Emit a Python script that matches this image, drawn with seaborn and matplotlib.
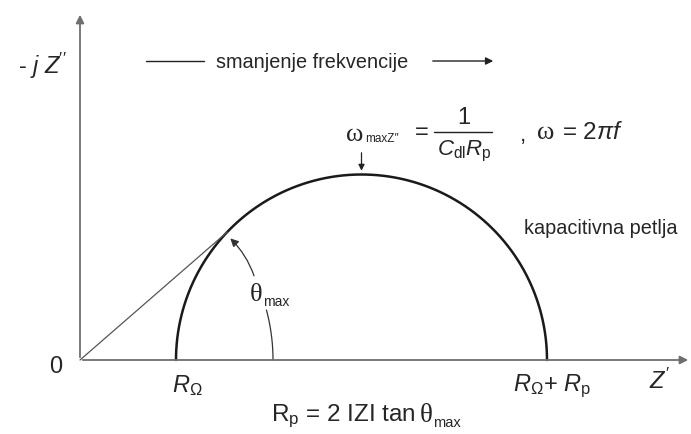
import numpy as np
import matplotlib
matplotlib.use('Agg')
import matplotlib.pyplot as plt
import seaborn as sns

# values (pixel-like units, origin at the axes corner)
r_omega = 96          # R_Omega on the Z' axis
r_p = 371             # polarisation resistance (diameter of the loop)
contact_deg = 136.4   # where the line from the origin meets the loop
angle_radius = 193    # radius of the theta arc
theta_gap = [15, 25]  # arc is broken here for the label

sns.set_theme(style='white')
plt.rcParams['font.family'] = ['Liberation Sans', 'DejaVu Sans']
plt.rcParams['mathtext.fontset'] = 'custom'
plt.rcParams['mathtext.rm'] = 'Liberation Sans'
plt.rcParams['mathtext.it'] = 'Liberation Sans:italic'

fig = plt.figure(figsize=(6.91, 4.35), dpi=100)
ax = fig.add_axes([0, 0, 1, 1])
ax.set_xlim(-80, 611)
ax.set_ylim(-74, 361)
ax.axis('off')

# semicircle (capacitive loop)
center = r_omega + r_p / 2
phi = np.linspace(0, np.pi, 300)
loop_x = center + r_p / 2 * np.cos(phi)
loop_y = r_p / 2 * np.sin(phi)
sns.lineplot(x=loop_x, y=loop_y, sort=False, color='#1a1a1a', lw=1.8, ax=ax)

# axes with arrows
ax.annotate('', xy=(611, 0), xytext=(0, 0),
            arrowprops=dict(arrowstyle='-|>', color='#6e6e6e', lw=1.3, mutation_scale=12))
ax.annotate('', xy=(0, 348), xytext=(0, 0),
            arrowprops=dict(arrowstyle='-|>', color='#6e6e6e', lw=1.3, mutation_scale=12))

# line from origin to the loop
cx = center + r_p / 2 * np.cos(np.radians(contact_deg))
cy = r_p / 2 * np.sin(np.radians(contact_deg))
ax.plot([0, cx], [0, cy], color='#555555', lw=0.9)
theta = np.degrees(np.arctan2(cy, cx))

# theta arc, broken around its label
a1 = np.radians(np.linspace(0, theta_gap[0], 40))
ax.plot(angle_radius * np.cos(a1), angle_radius * np.sin(a1), color='#333333', lw=0.9)
a2 = np.radians([theta_gap[1], theta - 1.2])
ax.annotate('', xy=(angle_radius * np.cos(a2[1]), angle_radius * np.sin(a2[1])),
            xytext=(angle_radius * np.cos(a2[0]), angle_radius * np.sin(a2[0])),
            arrowprops=dict(arrowstyle='-|>', color='#333333', lw=0.9, mutation_scale=12,
                            connectionstyle='arc3,rad=0.13'))
ax.text(170, 66, '\u03b8', family='Liberation Serif', fontsize=19, ha='left', va='center')
ax.text(183, 59, 'max', fontsize=10, ha='left', va='center')

# frequency label with arrow
ax.plot([66, 124], [299, 299], color='#222222', lw=1.0)
ax.text(136, 298, 'smanjenje frekvencije', fontsize=14.3, ha='left', va='center')
ax.annotate('', xy=(416, 299), xytext=(350, 299),
            arrowprops=dict(arrowstyle='-|>', color='#222222', lw=1.0, mutation_scale=11))

# omega max label
ax.text(266, 226, '\u03c9', family='Liberation Serif', fontsize=19, ha='left', va='center')
ax.text(285, 222, 'maxZ\u2033', fontsize=8.5, ha='left', va='center')
ax.text(335, 228, '=', fontsize=17, ha='left', va='center')
ax.text(384, 243, '1', fontsize=17, ha='center', va='center')
ax.plot([354, 412], [228, 228], color='#222222', lw=1.0)
ax.text(384, 210, r'$C_{\mathrm{dl}}R_{\mathrm{p}}$', fontsize=16, ha='center', va='center')
ax.text(440, 226, ',', fontsize=16, ha='left', va='center')
ax.text(457, 228, '\u03c9', family='Liberation Serif', fontsize=19, ha='left', va='center')
ax.text(482, 228, r'= 2$\pi$$f$', fontsize=17.5, ha='left', va='center')
ax.annotate('', xy=(center, r_p / 2 + 1), xytext=(center, 210),
            arrowprops=dict(arrowstyle='-|>', color='#222222', lw=0.9, mutation_scale=9))

ax.text(444, 133, 'kapacitivna petlja', fontsize=14.3, ha='left', va='center')

# axis labels
ax.text(-38, 295, r'- $j$ $Z$$^{\prime\prime}$', fontsize=17, ha='center', va='center')
ax.text(-24, -6, '0', fontsize=17, ha='center', va='center')
ax.text(r_omega + 11, -25, r'$R_{\Omega}$', fontsize=17, ha='center', va='center')
ax.text(r_omega + r_p + 5, -25, r'$R_{\Omega}$+ $R_{\mathrm{p}}$', fontsize=17, ha='center', va='center')
ax.text(580, -20, r"$Z'$", fontsize=17, ha='center', va='center')
ax.text(336, -55, r'R$_{\mathrm{p}}$ = 2 IZI tan', fontsize=17.5, ha='right', va='center')
ax.text(340, -55, '\u03b8', family='Liberation Serif', fontsize=19.5, ha='left', va='center')
ax.text(353, -62, 'max', fontsize=10.5, ha='left', va='center')

fig.savefig('out.png', dpi=100)
